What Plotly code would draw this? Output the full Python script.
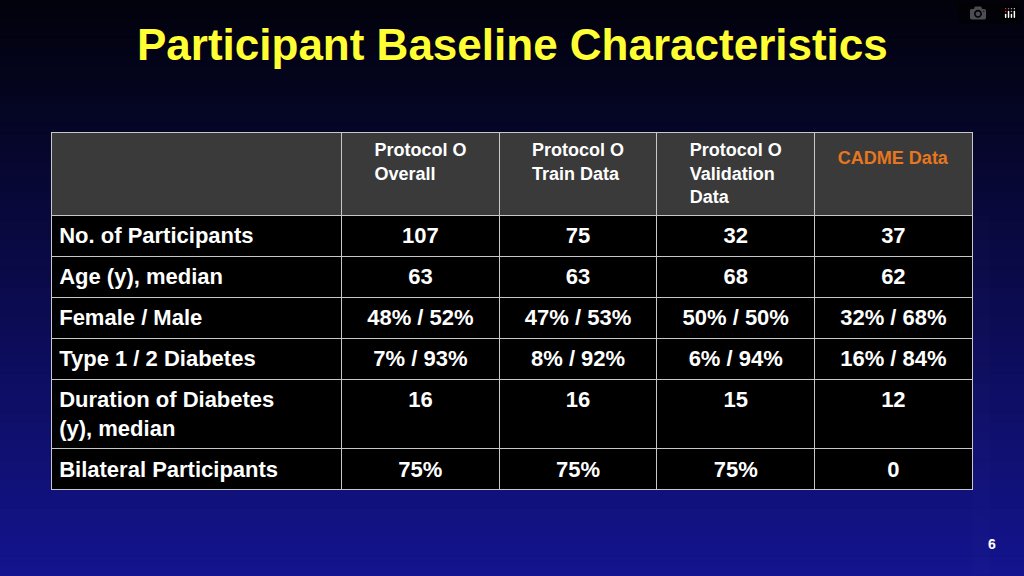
import plotly.graph_objects as go

columns = ["", "Protocol O<br>Overall", "Protocol O<br>Train Data",
           "Protocol O<br>Validation<br>Data", "<br>CADME Data"]
row_labels = ["No. of Participants", "Age (y), median", "Female / Male",
              "Type 1 / 2 Diabetes", "Duration of Diabetes<br>(y), median",
              "Bilateral Participants"]
overall = ["107", "63", "48% / 52%", "7% / 93%", "16", "75%"]
train = ["75", "63", "47% / 53%", "8% / 92%", "16", "75%"]
validation = ["32", "68", "50% / 50%", "6% / 94%", "15", "75%"]
cadme = ["37", "62", "32% / 68%", "16% / 84%", "12", "0"]

fig = go.Figure()

fig.add_trace(go.Table(
    domain=dict(x=[0.05, 0.95], y=[0, 0.77]),
    columnwidth=[291, 158, 158, 158, 158],
    header=dict(values=["<b>%s</b>" % c for c in columns],
                fill_color="#3a3a3a",
                line=dict(color="#c8c8c8", width=1),
                align="center", height=82,
                font=dict(family="Liberation Sans, Arial", size=18,
                          color=["white", "white", "white", "white", "#e8761e"])),
    cells=dict(values=[["<b>%s</b>" % v for v in col]
                       for col in [row_labels, overall, train, validation, cadme]],
               fill_color="black",
               line=dict(color="#c8c8c8", width=1),
               align=["left", "center", "center", "center", "center"],
               height=40,
               font=dict(family="Liberation Sans, Arial", size=22, color="white")),
))

# dark vertical gradient background
n = 60
shapes = []
for i in range(n):
    t = i / (n - 1)
    r, g, b = int(2 + 18 * t), int(2 + 18 * t), int(12 + 130 * t)
    shapes.append(dict(type="rect", xref="paper", yref="paper", x0=0, x1=1,
                       y0=1 - (i + 1) / n, y1=1 - i / n + 0.001,
                       fillcolor=f"rgb({r},{g},{b})", line=dict(width=0),
                       layer="below"))

fig.update_layout(
    width=1024, height=576,
    margin=dict(l=0, r=0, t=0, b=0),
    paper_bgcolor="black",
    shapes=shapes,
    annotations=[
        dict(text="<b>Participant Baseline Characteristics</b>", x=0.5, y=0.922,
             xref="paper", yref="paper", showarrow=False, yanchor="middle",
             font=dict(family="Liberation Sans, Arial", size=44, color="#ffff33")),
        dict(text="<b>6</b>", x=0.975, y=0.055, xref="paper", yref="paper",
             showarrow=False, yanchor="middle",
             font=dict(family="Liberation Sans, Arial", size=14, color="white")),
    ],
)

fig.write_html("out.html",
               post_script="document.body.style.margin='0';document.body.style.background='black';")
